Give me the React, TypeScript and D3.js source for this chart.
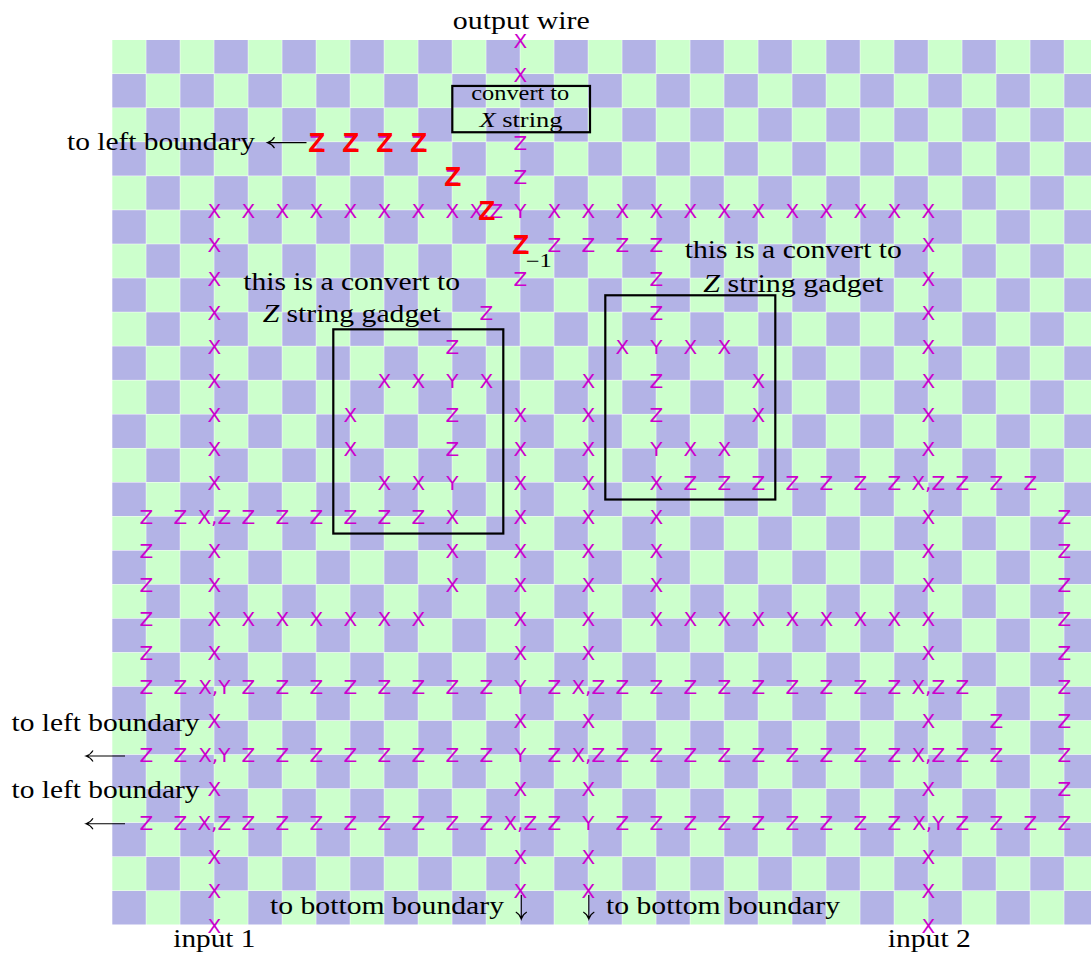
import React from 'react';
import * as d3 from 'd3';

// Grid contents: one string per vertex row, 29 tokens (columns 0..28), "." = empty, "|" = visual separator
const ROWS: string[] = [
  ". . . . . | . . . . . | . . X . . | . . . . . | . . . . . | . . . .",
  ". . . . . | . . . . . | . . X . . | . . . . . | . . . . . | . . . .",
  ". . . . . | . . . . . | . . . . . | . . . . . | . . . . . | . . . .",
  ". . . . . | . Z Z Z Z | . . Z . . | . . . . . | . . . . . | . . . .",
  ". . . . . | . . . . . | Z . Z . . | . . . . . | . . . . . | . . . .",
  ". . . X X | X X X X X | X X,Z Y X X | X X X X X | X X X X X | . . . .",
  ". . . X . | . . . . . | . . Z Z Z | Z Z . . . | . . . . X | . . . .",
  ". . . X . | . . . . . | . . Z . . | . Z . . . | . . . . X | . . . .",
  ". . . X . | . . . . . | . Z . . . | . Z . . . | . . . . X | . . . .",
  ". . . X . | . . . . . | Z . . . . | X Y X X . | . . . . X | . . . .",
  ". . . X . | . . . X X | Y X . . X | . Z . . X | . . . . X | . . . .",
  ". . . X . | . . X . . | Z . X . X | . Z . . X | . . . . X | . . . .",
  ". . . X . | . . X . . | Z . X . X | . Y X X . | . . . . X | . . . .",
  ". . . X . | . . . X X | Y . X . X | . X Z Z Z | Z Z Z Z X,Z | Z Z Z .",
  ". Z Z X,Z Z | Z Z Z Z Z | X . X . X | . X . . . | . . . . X | . . . Z",
  ". Z . X . | . . . . . | X . X . X | . X . . . | . . . . X | . . . Z",
  ". Z . X . | . . . . . | X . X . X | . X . . . | . . . . X | . . . Z",
  ". Z . X X | X X X X X | . . X . X | . X X X X | X X X X X | . . . Z",
  ". Z . X . | . . . . . | . . X . X | . . . . . | . . . . X | . . . Z",
  ". Z Z X,Y Z | Z Z Z Z Z | Z Z Y Z X,Z | Z Z Z Z Z | Z Z Z Z X,Z | Z . . Z",
  ". . . X . | . . . . . | . . X . X | . . . . . | . . . . X | . Z . Z",
  ". Z Z X,Y Z | Z Z Z Z Z | Z Z Y Z X,Z | Z Z Z Z Z | Z Z Z Z X,Z | Z Z . Z",
  ". . . X . | . . . . . | . . X . X | . . . . . | . . . . X | . . . Z",
  ". Z Z X,Z Z | Z Z Z Z Z | Z Z X,Z Z Y | Z Z Z Z Z | Z Z Z Z X,Y | Z Z Z Z",
  ". . . X . | . . . . . | . . X . X | . . . . . | . . . . X | . . . .",
  ". . . X . | . . . . . | . . X . X | . . . . . | . . . . X | . . . .",
  ". . . X . | . . . . . | . . . . . | . . . . . | . . . . X | . . . .",
];

// Highlighted (red) Z path: [column, row]
const RED_Z: [number, number][] = [[6, 3], [7, 3], [8, 3], [9, 3], [10, 4], [11, 5], [12, 6]];

// Gadget boxes in grid units
const GADGET_BOXES = [
  { c0: 6.5, c1: 11.5, r0: 8.5, r1: 14.5 },
  { c0: 14.5, c1: 19.5, r0: 7.5, r1: 13.5 },
];
const CONVERT_BOX = { c0: 10, c1: 14.05, r0: 1.35, r1: 2.71 };

const N_COLS = 29;
const N_ROWS = 26;

const GREEN = '#ccffcc';
const PURPLE = '#b3b3e6';
const MAGENTA = '#cc00cc';

function leftArrow(x1: number, x2: number, y: number) {
  return `M${x2},${y}H${x1 + 0.5} M${x1 + 7},${y - 5.5} C${x1 + 5},${y - 2} ${x1 + 2},${y - 0.6} ${x1},${y} C${x1 + 2},${y + 0.6} ${x1 + 5},${y + 2} ${x1 + 7},${y + 5.5}`;
}
function downArrow(x: number, y1: number, y2: number) {
  return `M${x},${y1}V${y2 - 0.5} M${x - 5.5},${y2 - 7} C${x - 2},${y2 - 5} ${x - 0.6},${y2 - 2} ${x},${y2} C${x + 0.6},${y2 - 2} ${x + 2},${y2 - 5} ${x + 5.5},${y2 - 7}`;
}

const SERIF = '"Liberation Serif", "DejaVu Serif", serif';

export default function App() {
  const x = d3.scaleLinear().domain([0, N_COLS]).range([112.3, 112.3 + 34 * N_COLS]);
  const y = d3.scaleLinear().domain([0, N_ROWS]).range([40, 925]);

  const cells: { i: number; j: number }[] = [];
  for (let i = 0; i < N_COLS; i++) for (let j = 0; j < N_ROWS; j++) cells.push({ i, j });

  const labels = ROWS.flatMap((row, r) =>
    row
      .split(/\s+/)
      .filter((t) => t && t !== '|')
      .map((t, c) => ({ t, c, r }))
      .filter((d) => d.t !== '.')
  );

  const T = (props: any) => (
    <text fontFamily={SERIF} fontSize={25} fill="#000" lengthAdjust="spacingAndGlyphs" {...props} />
  );

  return (
    <svg
      width={1091}
      height={954}
      style={{ position: 'absolute', left: 0, top: 0, background: '#fff' }}
    >
      <g>
        {cells.map(({ i, j }) => (
          <rect
            key={`${i}-${j}`}
            x={x(i)}
            y={y(j)}
            width={x(i + 1) - x(i) - 0.5}
            height={y(j + 1) - y(j) - 0.5}
            fill={(i + j) % 2 === 0 ? GREEN : PURPLE}
          />
        ))}
      </g>

      <g fontFamily='"DejaVu Sans", sans-serif' fontSize={20} fill={MAGENTA} textAnchor="middle">
        {labels.map((d, k) => (
          <text key={k} x={x(d.c)} y={y(d.r) + 7.5}>
            {d.t}
          </text>
        ))}
      </g>

      <g fontFamily='"Liberation Sans", sans-serif' fontWeight="bold" fontSize={28} fill="#ff0000" textAnchor="middle">
        {RED_Z.map(([c, r], k) => (
          <text key={k} x={x(c) + 0.5} y={y(r) + 10}>
            Z
          </text>
        ))}
      </g>
      <text x={x(12) + 5.5} y={y(6) + 22.5} fontFamily={SERIF} fontSize={18} textLength={26} lengthAdjust="spacingAndGlyphs">
        −1
      </text>

      {/* boxes */}
      <g fill="none" stroke="#000" strokeWidth={2.2}>
        {GADGET_BOXES.map((b, k) => (
          <rect key={k} x={x(b.c0)} y={y(b.r0)} width={x(b.c1) - x(b.c0)} height={y(b.r1) - y(b.r0)} />
        ))}
        <rect
          x={x(CONVERT_BOX.c0)}
          y={y(CONVERT_BOX.r0)}
          width={x(CONVERT_BOX.c1) - x(CONVERT_BOX.c0)}
          height={y(CONVERT_BOX.r1) - y(CONVERT_BOX.r0)}
        />
      </g>

      {/* convert to X string */}
      <T x={x(12)} y={y(1.763)} fontSize={20} textAnchor="middle" textLength={98}>
        convert to
      </T>
      <T x={x(12.02)} y={y(2.547)} fontSize={20} textAnchor="middle" textLength={83}>
        <tspan fontStyle="italic">X</tspan> string
      </T>

      {/* output wire */}
      <T x={x(12) + 1} y={29} textAnchor="middle" textLength={137}>
        output wire
      </T>

      {/* top left boundary */}
      <T x={255} y={y(3) + 8} textAnchor="end" textLength={188}>
        to left boundary
      </T>
      <path d={leftArrow(267.5, 306.5, y(3) + 0.5)} fill="none" stroke="#000" strokeWidth={1.1} />

      {/* gadget labels */}
      <T x={x(7.04)} y={y(7.34)} textAnchor="middle" textLength={217}>
        this is a convert to
      </T>
      <T x={x(7.04)} y={y(8.28)} textAnchor="middle" textLength={178}>
        <tspan fontStyle="italic">Z</tspan> string gadget
      </T>
      <T x={x(20.03)} y={y(6.40)} textAnchor="middle" textLength={217}>
        this is a convert to
      </T>
      <T x={x(20.03)} y={y(7.39)} textAnchor="middle" textLength={180}>
        <tspan fontStyle="italic">Z</tspan> string gadget
      </T>

      {/* left boundary labels */}
      <T x={199.5} y={y(20) + 9.8} textAnchor="end" textLength={188}>
        to left boundary
      </T>
      <T x={199.5} y={y(22) + 9.2} textAnchor="end" textLength={188}>
        to left boundary
      </T>
      <path d={leftArrow(86, 125, y(21) + 1.2)} fill="none" stroke="#000" strokeWidth={1.1} />
      <path d={leftArrow(86, 125, y(23) + 0.8)} fill="none" stroke="#000" strokeWidth={1.1} />

      {/* bottom boundary labels */}
      <T x={504} y={914} textAnchor="end" textLength={234}>
        to bottom boundary
      </T>
      <path d={downArrow(x(12) + 1, 895, 919)} fill="none" stroke="#000" strokeWidth={1.1} />
      <T x={606} y={914} textAnchor="start" textLength={234}>
        to bottom boundary
      </T>
      <path d={downArrow(x(14) + 0.5, 895, 919)} fill="none" stroke="#000" strokeWidth={1.1} />

      {/* inputs */}
      <T x={x(3)} y={947} textAnchor="middle" textLength={82}>
        input 1
      </T>
      <T x={x(24) + 1} y={947} textAnchor="middle" textLength={83}>
        input 2
      </T>
    </svg>
  );
}
